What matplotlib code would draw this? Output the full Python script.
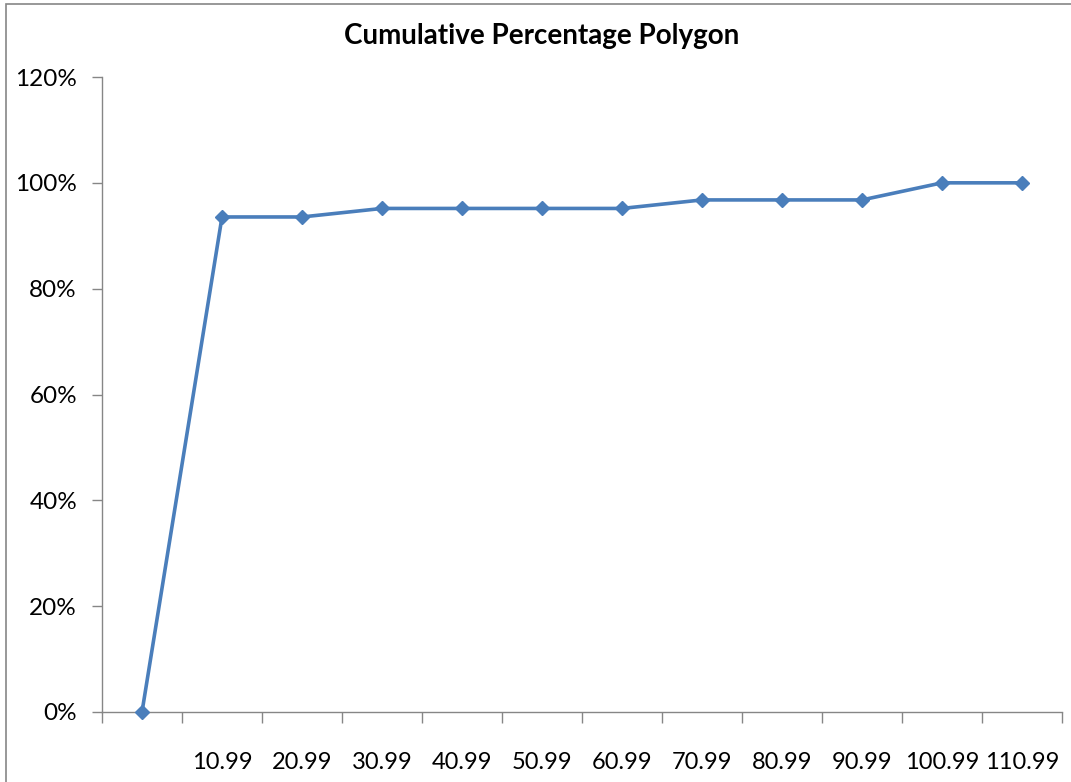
import numpy as np
import matplotlib
matplotlib.use("Agg")
import matplotlib.pyplot as plt
from matplotlib.patches import Rectangle
from matplotlib.ticker import PercentFormatter

# data
categories = ["", "10.99", "20.99", "30.99", "40.99", "50.99", "60.99",
              "70.99", "80.99", "90.99", "100.99", "110.99"]
cum_pct = [0.0, 93.55, 93.55, 95.16, 95.16, 95.16, 95.16,
           96.77, 96.77, 96.77, 100.0, 100.0]

plt.rcParams['font.family'] = ['Lato', 'DejaVu Sans']

fig = plt.figure(figsize=(10.71, 7.82), dpi=100)
ax = fig.add_axes([102/1071, 70/782, 960/1071, 635/782])

x = np.arange(len(categories))
ax.plot(x, cum_pct, color='#4A7EBB', lw=2.6, marker='D', ms=7.5,
        mfc='#4A7EBB', mec='#4A7EBB', clip_on=False, zorder=3)

ax.set_xlim(-0.5, len(categories) - 0.5)
ax.set_ylim(0, 120)
ax.set_yticks(np.arange(0, 121, 20))
ax.yaxis.set_major_formatter(PercentFormatter(decimals=0))

ax.set_xticks(x)
ax.set_xticklabels(categories)
ax.set_xticks(np.arange(-0.5, len(categories), 1), minor=True)
ax.tick_params(axis='x', which='major', length=0, pad=29, labelsize=17)
ax.tick_params(axis='x', which='minor', length=8, color='#868686', width=1)
ax.tick_params(axis='y', length=7, color='#868686', width=1, pad=11, labelsize=17.5)

for s in ['top', 'right']:
    ax.spines[s].set_visible(False)
for s in ['left', 'bottom']:
    ax.spines[s].set_color('#868686')
    ax.spines[s].set_linewidth(1)

fig.text(542/1071, 1 - 36/782, "Cumulative Percentage Polygon", ha='center',
         va='center', fontsize=20, fontweight='bold')

# chart border
fig.patches.append(Rectangle((6/1071, -0.1), 1.2, 1 - 4/782 + 0.1,
                             transform=fig.transFigure, fill=False,
                             edgecolor='#868686', lw=1.2))

fig.savefig('out.png', dpi=100)
